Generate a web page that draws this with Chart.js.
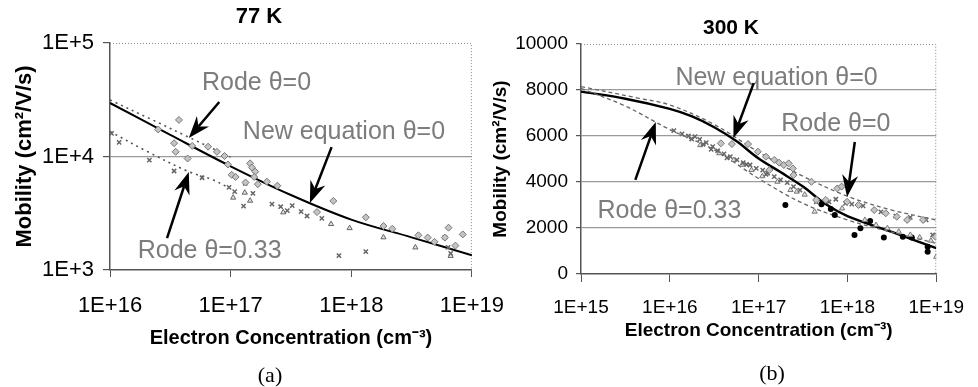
<!DOCTYPE html>
<html>
<head>
<meta charset="utf-8">
<script src="https://cdn.jsdelivr.net/npm/chart.js"></script>
<style>
  body { margin: 0; background: #fff; }
  #wrap { position: relative; width: 978px; height: 387px; overflow: hidden; background: #fff; }
  canvas { position: absolute; top: 0; }
  .lbl { position: absolute; transform: translate(-50%, -50%); white-space: nowrap; color: #000; }
  .ttl { font: bold 22px "Liberation Sans", Arial, sans-serif; }
  .cap { font: 22px "Liberation Serif", "Times New Roman", serif; }
</style>
</head>
<body>
<div id="wrap">
  <canvas id="c77" width="520" height="387" style="left:0"></canvas>
  <canvas id="c300" width="498" height="387" style="left:480px"></canvas>
  <div class="lbl ttl" style="left:259px; top:16px">77 K</div>
  <div class="lbl ttl" style="left:731px; top:27px; font-size:21px">300 K</div>
  <div class="lbl cap" style="left:270px; top:375px">(a)</div>
  <div class="lbl cap" style="left:772px; top:373px">(b)</div>
</div>
<script>
// ---- 77 K data ----
const ticks77X = [1e16, 1e17, 1e18, 1e19];
const ticks77Y = [1e3, 1e4, 1e5];

const newEq77N  = [1e16, 3.16e16, 1e17, 3.16e17, 1e18, 3.16e18, 1e19];
const newEq77Mu = [29600, 15500, 8200, 4580, 2780, 1940, 1350];
const rode0_77N  = [1e16, 2.25e16, 4.37e16, 1e17];
const rode0_77Mu = [31500, 21000, 15000, 9900];
const rode33_77N  = [1e16, 2.06e16, 4.5e16, 7.2e16, 9.8e16];
const rode33_77Mu = [16600, 11000, 7350, 6200, 5250];

const diam77N  = [3.73e16, 2.51e16, 3.4e16, 3.5e16, 4.4e16, 4.8e16, 6.5e16, 7.7e16, 8.9e16, 9.5e16,
                  1.02e17, 1.1e17, 1.45e17, 1.5e17, 1.6e17, 1.57e17, 1.68e17, 1.33e17, 2.0e17, 2.44e17,
                  5.2e17, 7.1e17, 1.32e18, 1.85e18, 2.19e18, 3.6e18, 4.3e18, 4.9e18, 5.97e18, 6.4e18, 7.3e18, 8.4e18];
const diam77Mu = [21000, 17300, 13100, 11000, 9600, 12400, 12200, 11000, 10100, 8500,
                  6900, 6600, 8700, 8000, 7350, 6600, 5700, 5900, 6000, 5530,
                  3240, 4060, 2910, 2440, 2310, 2020, 1930, 1770, 1930, 2360, 1640, 2060];
const cross77N  = [1.03e16, 1.19e16, 2.12e16, 3.4e16, 5.8e16, 9.7e16, 1.08e17, 1.28e17, 1.32e17, 1.53e17,
                   2.2e17, 2.6e17, 2.95e17, 3.24e17, 3.84e17, 4.3e17, 5.7e17, 7.9e17, 1.32e18, 5.97e18, 6.35e18, 6.67e18];
const cross77Mu = [16000, 13300, 9300, 7450, 6500, 5340, 4900, 3660, 5800, 4730,
                   3810, 3610, 3330, 3690, 3270, 2990, 2850, 1340, 1450, 1940, 1580, 1400];
const tri77N  = [1.05e17, 1.31e17, 1.45e17, 2.73e17, 6.8e17, 9.7e17, 1.85e18, 3.4e18, 6.67e18];
const tri77Mu = [4340, 4800, 4080, 3220, 2540, 2340, 1940, 1580, 1330];

// ---- 300 K data ----
const ticks300X = [1e15, 1e16, 1e17, 1e18, 1e19];

const newEq300N  = [1e15, 3.16e15, 1e16, 1.78e16, 3.16e16, 5.6e16, 1e17, 1.78e17, 3.16e17, 5.6e17, 1e18, 3.16e18, 1e19];
const newEq300Mu = [7930, 7620, 7180, 6850, 6380, 5780, 5020, 4420, 3800, 3050, 2520, 1830, 1120];
const rode0_300N  = [1e15, 4.5e15, 1e16, 3.16e16, 1e17, 3.16e17, 1e18, 3.16e18, 1e19];
const rode0_300Mu = [8150, 7640, 7350, 6500, 5300, 4250, 3380, 2780, 2350];
const rode33_300N  = [1e15, 3.16e15, 1e16, 3.16e16, 1e17, 3.16e17, 1e18, 3.16e18, 1e19];
const rode33_300Mu = [8070, 7300, 6280, 5400, 4150, 3070, 2350, 1820, 1330];

const diam300N  = [3.75e16, 5.0e16, 7.6e16, 9.8e16, 1.21e17, 1.5e17, 1.7e17, 1.92e17, 2.18e17, 2.43e17,
                   2.47e17, 1.32e17, 3.93e17, 4.45e17, 7.7e17, 8.6e17, 9.9e17, 1.33e18, 2.0e18, 2.7e18,
                   3.6e18, 4.7e18, 7.1e18, 9.8e18, 5.7e17];
const diam300Mu = [5680, 5650, 5650, 5320, 5100, 4960, 4840, 4740, 4810, 4590,
                   4300, 4520, 4010, 3220, 3720, 3800, 3140, 3000, 2780, 2640,
                   2490, 2350, 2350, 1620, 3220];
const cross300N  = [1.11e16, 1.37e16, 1.62e16, 1.92e16, 2.17e16, 2.57e16, 3.04e16, 3.45e16, 4.07e16, 4.8e16,
                    5.7e16, 6.7e16, 8.0e16, 9.4e16, 1.11e17, 1.26e17, 1.5e17, 1.77e17, 2.1e17, 2.47e17,
                    2.92e17, 4.45e17, 6.2e17, 7.4e17, 9.5e17, 1.12e18, 1.5e18, 2.38e18, 3.5e18, 5.1e18, 7.7e18, 9.1e18,
                    1.76e16, 2.37e16, 2.92e16, 4.4e16, 7.3e16, 1.21e17];
const cross300Mu = [6230, 6090, 6000, 5970, 5850, 5710, 5540, 5360, 5220, 5100,
                    4960, 4840, 4740, 4590, 4520, 4380, 4230, 4090, 3970, 3800,
                    3650, 3140, 3140, 3250, 3070, 3040, 2960, 2700, 2520, 2460, 2350, 1700,
                    5870, 5640, 5420, 5050, 4760, 4330];
const tri300N  = [3.6e16, 5.25e16, 8.3e16, 1.63e17, 2.28e17, 2.69e17, 4.27e17, 8.7e17, 1.57e18, 2.1e18,
                  2.82e18, 3.78e18, 5.1e18, 6.5e18, 8.7e18, 1.0e19, 2.2e16, 6.5e16, 1.1e17, 3.3e17];
const tri300Mu = [5250, 4960, 4520, 4010, 3650, 3580, 2710, 2850, 2350, 2130,
                  1990, 1840, 1700, 1590, 1450, 750, 5600, 4750, 4250, 3450];
const dot300N  = [2.0e17, 5.1e17, 6.5e17, 7.2e17, 1.2e18, 1.4e18, 1.8e18, 2.57e18, 4.2e18, 5.3e18, 8.0e18, 8.0e18];
const dot300Mu = [3000, 3030, 2830, 2560, 1700, 1990, 2300, 1590, 1620, 1590, 970, 1190];

const SANS = '"Liberation Sans", Arial, sans-serif';

function pts(xs, ys) {
  return xs.map((x, i) => ({ x: x, y: ys[i] }));
}

function curve(xs, ys, color, width, dash) {
  return {
    type: 'line', data: pts(xs, ys), borderColor: color, borderWidth: width,
    borderDash: dash, pointRadius: 0, fill: false, tension: 0.35
  };
}

function marks(xs, ys, style, r, fillC, lineC, lw) {
  return {
    type: 'scatter', data: pts(xs, ys), pointStyle: style, pointRadius: r,
    backgroundColor: fillC, borderColor: lineC, borderWidth: lw
  };
}

function drawArrow(ctx, x1, y1, x2, y2) {
  const ang = Math.atan2(y2 - y1, x2 - x1);
  const len = 22, wing = 8, notch = 15;
  const c = Math.cos(ang), s = Math.sin(ang);
  ctx.strokeStyle = '#000';
  ctx.fillStyle = '#000';
  ctx.lineWidth = 2.5;
  ctx.beginPath();
  ctx.moveTo(x1, y1);
  ctx.lineTo(x2 - c * notch, y2 - s * notch);
  ctx.stroke();
  ctx.beginPath();
  ctx.moveTo(x2, y2);
  ctx.lineTo(x2 - c * len - s * wing, y2 - s * len + c * wing);
  ctx.lineTo(x2 - c * notch, y2 - s * notch);
  ctx.lineTo(x2 - c * len + s * wing, y2 - s * len - c * wing);
  ctx.closePath();
  ctx.fill();
}

// labels and arrows are placed in data units of the chart
function notesPlugin(labels, arrows) {
  return {
    id: 'notes',
    beforeDatasetsDraw(chart) {
      const { ctx, chartArea: a } = chart;
      ctx.save();
      ctx.strokeStyle = '#888';
      ctx.lineWidth = 1;
      ctx.setLineDash([1, 2]);
      ctx.beginPath();
      ctx.moveTo(a.left, a.top + 0.5);
      ctx.lineTo(a.right - 0.5, a.top + 0.5);
      ctx.lineTo(a.right - 0.5, a.bottom);
      ctx.stroke();
      ctx.restore();
    },
    afterDatasetsDraw(chart) {
      const { ctx, scales: { x, y } } = chart;
      ctx.save();
      ctx.font = '25px ' + SANS;
      ctx.fillStyle = '#7c7c7c';
      ctx.textAlign = 'center';
      ctx.textBaseline = 'middle';
      labels.forEach(l => ctx.fillText(l.text, x.getPixelForValue(l.x), y.getPixelForValue(l.y)));
      arrows.forEach(r => drawArrow(ctx,
        x.getPixelForValue(r.x1), y.getPixelForValue(r.y1),
        x.getPixelForValue(r.x2), y.getPixelForValue(r.y2)));
      ctx.restore();
    }
  };
}

const expLabel = v => '1E+' + Math.round(Math.log10(v));

// ---- (a) 77 K ----
new Chart(document.getElementById('c77'), {
  data: {
    datasets: [
      marks(diam77N, diam77Mu, 'rectRot', 3.5, '#c4c4c4', '#777', 1),
      marks(cross77N, cross77Mu, 'crossRot', 3, '#666', '#666', 1.5),
      marks(tri77N, tri77Mu, 'triangle', 3, '#e0e0e0', '#666', 1),
      curve(rode0_77N, rode0_77Mu, '#555', 1.6, [2, 4]),
      curve(rode33_77N, rode33_77Mu, '#555', 1.6, [2, 4]),
      curve(newEq77N, newEq77Mu, '#000', 2, [])
    ]
  },
  options: {
    responsive: false, animation: false, devicePixelRatio: 1,
    layout: { padding: { top: 43, right: 43, left: 0, bottom: 0 } },
    plugins: { legend: { display: false }, tooltip: { enabled: false } },
    scales: {
      x: {
        type: 'logarithmic', min: 1e16, max: 1e19,
        afterBuildTicks: s => { s.ticks = ticks77X.map(v => ({ value: v })); },
        afterFit: s => { s.height = 117; },
        ticks: { callback: expLabel, color: '#000', font: { family: SANS, size: 22 }, padding: 16, maxRotation: 0 },
        grid: { drawOnChartArea: false, tickLength: 7, tickColor: '#555' },
        border: { color: '#555', width: 1.5 },
        title: { display: true, text: 'Electron Concentration (cm⁻³)', color: '#000',
                 font: { family: SANS, size: 20, weight: 'bold' }, padding: { top: 0, bottom: 37 } }
      },
      y: {
        type: 'logarithmic', min: 1e3, max: 1e5,
        afterBuildTicks: s => { s.ticks = ticks77Y.map(v => ({ value: v })); },
        afterFit: s => { s.width = 110; },
        ticks: { callback: expLabel, color: '#000', font: { family: SANS, size: 22 }, padding: 9 },
        grid: { color: c => (c.tick && c.tick.value === 1e4) ? '#9a9a9a' : 'transparent',
                lineWidth: 1.2, tickLength: 7, tickColor: '#555' },
        border: { color: '#555', width: 1.5 },
        title: { display: true, text: 'Mobility (cm²/V/s)', color: '#000',
                 font: { family: SANS, size: 22, weight: 'bold' }, padding: { top: 12, bottom: 0 } }
      }
    }
  },
  plugins: [notesPlugin(
    [
      { text: 'Rode θ=0', x: 1.64e17, y: 44500 },
      { text: 'New equation θ=0', x: 8.7e17, y: 16400 },
      { text: 'Rode θ=0.33', x: 6.7e16, y: 1470 }
    ],
    [
      { x1: 8.05e16, y1: 30200, x2: 4.5e16, y2: 14550 },
      { x1: 6.87e17, y1: 12100, x2: 4.54e17, y2: 3890 },
      { x1: 2.97e16, y1: 1910, x2: 4.5e16, y2: 7300 }
    ]
  )]
});

// ---- (b) 300 K ----
new Chart(document.getElementById('c300'), {
  data: {
    datasets: [
      marks(diam300N, diam300Mu, 'rectRot', 3.5, '#c4c4c4', '#777', 1),
      marks(cross300N, cross300Mu, 'crossRot', 3, '#666', '#666', 1.5),
      marks(tri300N, tri300Mu, 'triangle', 3, '#e0e0e0', '#777', 1),
      marks(dot300N, dot300Mu, 'circle', 3, '#000', '#000', 0),
      curve(rode0_300N, rode0_300Mu, '#666', 1.3, [4, 3]),
      curve(rode33_300N, rode33_300Mu, '#666', 1.3, [4, 3]),
      curve(newEq300N, newEq300Mu, '#000', 2.4, [])
    ]
  },
  options: {
    responsive: false, animation: false, devicePixelRatio: 1,
    layout: { padding: { top: 44, right: 31, left: 0, bottom: 0 } },
    plugins: { legend: { display: false }, tooltip: { enabled: false } },
    scales: {
      x: {
        type: 'logarithmic', min: 1e15, max: 1e19,
        afterBuildTicks: s => { s.ticks = ticks300X.map(v => ({ value: v })); },
        afterFit: s => { s.height = 113; },
        ticks: { callback: expLabel, color: '#000', font: { family: SANS, size: 19 }, padding: 14, maxRotation: 0 },
        grid: { drawOnChartArea: false, tickLength: 8, tickColor: '#555' },
        border: { color: '#555', width: 1.5 },
        title: { display: true, text: 'Electron Concentration (cm⁻³)', color: '#000',
                 font: { family: SANS, size: 19, weight: 'bold' }, padding: { top: 0, bottom: 45 } }
      },
      y: {
        min: 0, max: 10000,
        ticks: { stepSize: 2000, callback: v => String(v), color: '#000', font: { family: SANS, size: 19 }, padding: 8 },
        afterFit: s => { s.width = 101; },
        grid: { color: c => (c.tick && c.tick.value > 0 && c.tick.value < 10000) ? '#9a9a9a' : 'transparent',
                lineWidth: 1.2, tickLength: 5, tickColor: '#555' },
        border: { color: '#555', width: 1.5 },
        title: { display: true, text: 'Mobility (cm²/V/s)', color: '#000',
                 font: { family: SANS, size: 19, weight: 'bold' }, padding: { top: 9, bottom: 0 } }
      }
    }
  },
  plugins: [notesPlugin(
    [
      { text: 'New equation θ=0', x: 1.59e17, y: 8520 },
      { text: 'Rode θ=0', x: 7.4e17, y: 6520 },
      { text: 'Rode θ=0.33', x: 9.9e15, y: 2740 }
    ],
    [
      { x1: 8.8e16, y1: 8300, x2: 5.2e16, y2: 5910 },
      { x1: 1.21e18, y1: 5740, x2: 9.9e17, y2: 3350 },
      { x1: 4.09e15, y1: 4090, x2: 6.95e15, y2: 6610 }
    ]
  )]
});
</script>
</body>
</html>
